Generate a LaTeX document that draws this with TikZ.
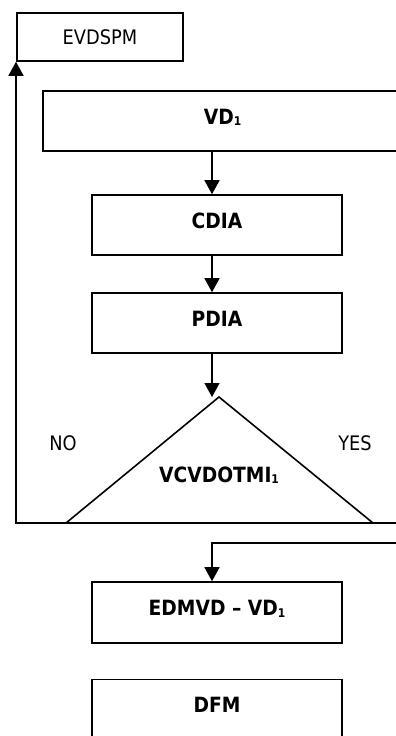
\documentclass[tikz,border=0pt]{standalone}
\usepackage{fontspec}
\setmainfont{DejaVu Sans}[FakeStretch=0.89]
\usetikzlibrary{arrows.meta}
\newcommand{\subone}{\raisebox{-1.5pt}{\fontsize{12}{13}\selectfont 1}}
\tikzset{
  x=1pt, y=1pt,
  ln/.style={line width=1.6pt},
  arr/.style={ln, -{Triangle[width=15pt,length=14pt]}},
  boxb/.style={draw, ln, rectangle, inner sep=0pt, text height=15.3pt, text depth=9pt,
    font=\fontsize{21}{24}\selectfont\bfseries},
  boxr/.style={draw, ln, rectangle, inner sep=0pt, font=\fontsize{20}{24}\selectfont},
  lbl/.style={inner sep=0pt, font=\fontsize{20}{24}\selectfont},
}
\begin{document}
\begin{tikzpicture}
\useasboundingbox (0,0) rectangle (396,-736);
\clip (0,0) rectangle (396,-736);
\coordinate (col) at (212,0);
% boxes
\node[boxr, minimum width=166, minimum height=48] (evd) at (100,-37) {EVDSPM};
\node[boxb, minimum width=359, minimum height=60] (vd) at (222.5,-121) {VD\subone};
\node[boxb, minimum width=250, minimum height=60] (cdia) at (217,-225) {CDIA};
\node[boxb, minimum width=250, minimum height=60] (pdia) at (217,-323) {PDIA};
\node[boxb, minimum width=250, minimum height=61] (edm) at (217,-612.5) {EDMVD – VD\subone};
\node[boxb, minimum width=250, minimum height=60] (dfm) at (217,-709.5) {DFM};
% decision triangle
\coordinate (apex) at (219,-397);
\coordinate (tl) at (66,-523);
\coordinate (tr) at (373,-523);
\draw[ln, line join=miter] (tl) -- (apex) -- (tr);
\node[lbl, font=\fontsize{21}{24}\selectfont\bfseries] (dec) at (219,-475) {VCVDOTMI\subone};
\node[lbl] (no) at (63,-443) {NO};
\node[lbl] (yes) at (355,-443) {YES};
% connectors
\draw[arr] (vd.south -| col) -- (cdia.north -| col);
\draw[arr] (cdia.south -| col) -- (pdia.north -| col);
\draw[arr] (pdia.south -| col) -- (col |- apex);
\coordinate (loopL) at (16,-523);
\coordinate (lineR) at (400,-523);
\draw[arr] (lineR) -- (loopL) -- (loopL |- evd.south);
\coordinate (yesR) at (400,-543);
\draw[arr] (yesR) -- (col |- yesR) -- (col |- edm.north);
\end{tikzpicture}
\end{document}
